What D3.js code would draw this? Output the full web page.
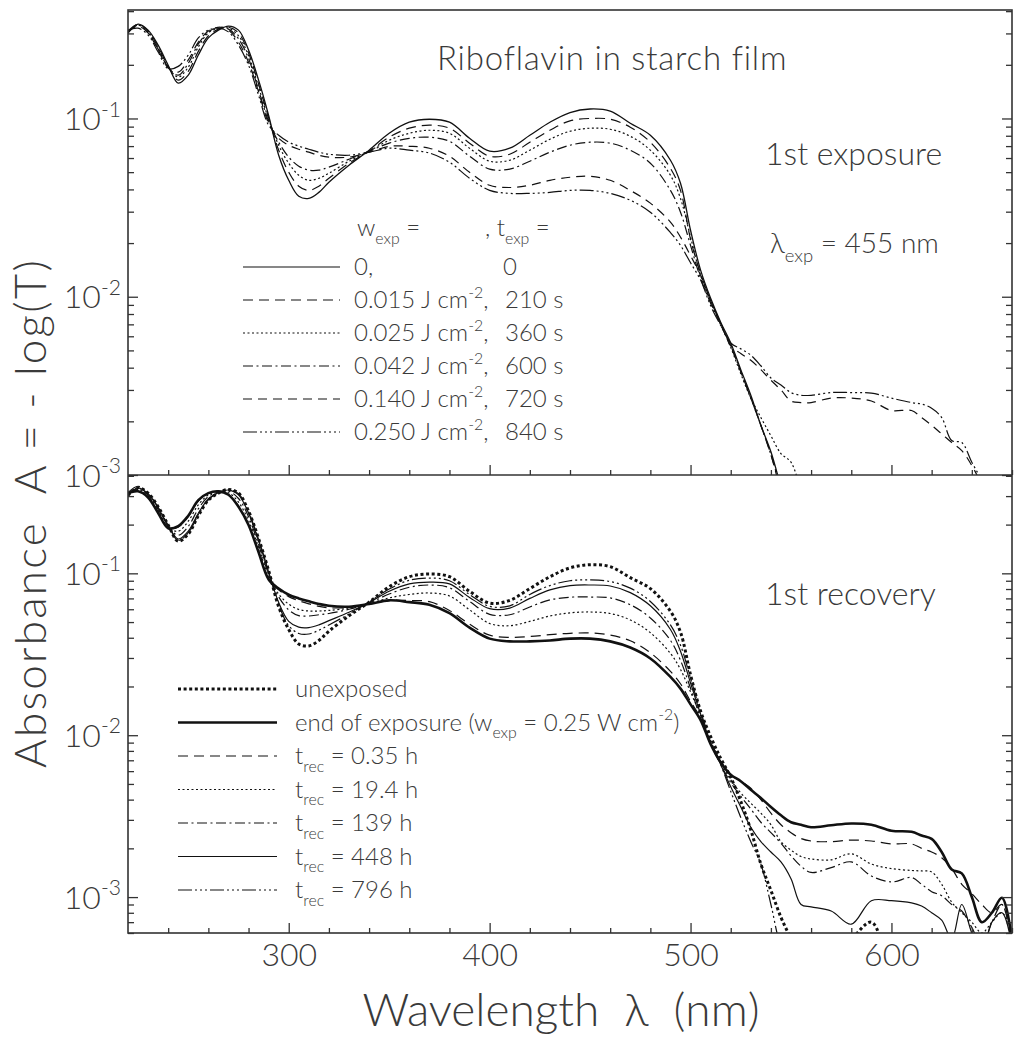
<!DOCTYPE html>
<html>
<head>
<meta charset="utf-8">
<script src="https://cdn.jsdelivr.net/npm/d3@7"></script>
<style>
  body { margin: 0; background: #fff; }
  svg text { font-family: Lato, "Open Sans", sans-serif; font-weight: 300; fill: #3a3a3a; white-space: pre; }
</style>
</head>
<body>
<svg width="1024" height="1042"></svg>
<script>
// wavelength grid (nm), shared by every spectrum
const wavelength = [
  220, 225, 230, 235, 240, 245, 250, 255, 260, 265, 270, 275, 280, 285, 290, 295, 300, 305, 310, 315, 320,
  330, 340, 350, 360, 370, 380, 390, 400, 410, 420, 430, 440, 450, 460, 470, 480, 490,
  495, 500, 505, 510, 515, 520, 525, 530, 535, 540, 545, 550, 555, 560,
  570, 580, 590, 600, 610,
  615, 620, 625, 630, 635, 640, 645, 650, 655, 660
];

// 1st exposure, absorbance
const exp0 = [
  0.302, 0.338, 0.313, 0.258, 0.199, 0.158, 0.175, 0.227, 0.283, 0.313, 0.330, 0.313, 0.242, 0.164, 0.104, 0.0622, 0.045, 0.0366, 0.0356, 0.0385, 0.0439,
  0.0547, 0.0664, 0.0826, 0.0953, 0.099, 0.0953, 0.0774, 0.0655, 0.0681, 0.0805, 0.0953, 0.108, 0.113, 0.110, 0.094, 0.0805, 0.0583,
  0.0433, 0.0236, 0.0141, 0.0098, 0.0072, 0.0055, 0.0039, 0.0028, 0.0019, 0.00135, 0.00085, 0.0005, 0.0003, 0.0003,
  0.0003, 0.0003, 0.0003, 0.0003, 0.0003,
  0.0003, 0.0003, 0.0003, 0.0003, 0.0003, 0.0003, 0.0003, 0.0003, 0.0003, 0.0003
];
const exp015 = [
  0.31, 0.338, 0.31, 0.252, 0.196, 0.164, 0.184, 0.238, 0.291, 0.317, 0.325, 0.302, 0.233, 0.156, 0.101, 0.0664, 0.05, 0.0417, 0.0395, 0.0417, 0.0462,
  0.0561, 0.0655, 0.0785, 0.0882, 0.0917, 0.0882, 0.0727, 0.0614, 0.063, 0.0736, 0.0859, 0.097, 0.1, 0.099, 0.0894, 0.0736, 0.0525,
  0.0395, 0.021, 0.0135, 0.0095, 0.0071, 0.0053, 0.0038, 0.0027, 0.0019, 0.0013, 0.0008, 0.0005, 0.0003, 0.0003,
  0.0003, 0.0003, 0.0003, 0.0003, 0.0003,
  0.0003, 0.0003, 0.0003, 0.0003, 0.0003, 0.0003, 0.0003, 0.0003, 0.0003, 0.0003
];
const exp025 = [
  0.306, 0.334, 0.306, 0.248, 0.194, 0.171, 0.194, 0.252, 0.302, 0.321, 0.321, 0.291, 0.225, 0.15, 0.099, 0.0708, 0.0561, 0.048, 0.045, 0.0462, 0.0493,
  0.0576, 0.0655, 0.0755, 0.0826, 0.0859, 0.0826, 0.0681, 0.0576, 0.0583, 0.0664, 0.0765, 0.0848, 0.0882, 0.087, 0.0795, 0.0664, 0.048,
  0.0356, 0.0216, 0.0132, 0.0093, 0.0070, 0.0052, 0.0037, 0.0027, 0.0021, 0.00166, 0.00132, 0.00118, 0.0008, 0.0005,
  0.0003, 0.0003, 0.0003, 0.0003, 0.0003,
  0.0003, 0.0003, 0.0003, 0.0003, 0.0003, 0.0003, 0.0003, 0.0003, 0.0003, 0.0003
];
const exp042 = [
  0.302, 0.334, 0.302, 0.245, 0.194, 0.175, 0.204, 0.262, 0.306, 0.325, 0.317, 0.28, 0.217, 0.144, 0.0965, 0.0736, 0.0607, 0.054, 0.0513, 0.0513, 0.0533,
  0.0591, 0.0655, 0.0727, 0.0774, 0.0785, 0.0745, 0.0614, 0.052, 0.052, 0.0576, 0.0647, 0.0708, 0.0736, 0.0727, 0.0664, 0.0561, 0.0395,
  0.0298, 0.0194, 0.0127, 0.0092, 0.0070, 0.0053, 0.0038, 0.0027, 0.0019, 0.0013, 0.00083, 0.0005, 0.0003, 0.0003,
  0.0003, 0.0003, 0.0003, 0.0003, 0.0003,
  0.0003, 0.0003, 0.0003, 0.0003, 0.0003, 0.0003, 0.0003, 0.0003, 0.0003, 0.0003
];
const exp140 = [
  0.306, 0.330, 0.302, 0.242, 0.192, 0.182, 0.213, 0.268, 0.31, 0.325, 0.313, 0.268, 0.207, 0.141, 0.094, 0.0774, 0.0708, 0.0672, 0.0647, 0.0622, 0.0607,
  0.0607, 0.0647, 0.0698, 0.0698, 0.0681, 0.0614, 0.0499, 0.0422, 0.041, 0.0422, 0.045, 0.0468, 0.0474, 0.045, 0.0395, 0.0335, 0.0262,
  0.0216, 0.017, 0.0132, 0.0095, 0.0071, 0.0053, 0.0048, 0.0044, 0.0039, 0.0034, 0.003, 0.0026, 0.00255, 0.00255,
  0.0027, 0.0027, 0.0026, 0.0023, 0.0023,
  0.0021, 0.0019, 0.0017, 0.00152, 0.00137, 0.00113, 0.00087, 0.0006, 0.0008, 0.0005
];
const exp250 = [
  0.313, 0.321, 0.294, 0.236, 0.19, 0.196, 0.227, 0.283, 0.313, 0.321, 0.306, 0.258, 0.199, 0.135, 0.0917, 0.0805, 0.0737, 0.070, 0.0672, 0.0647, 0.063,
  0.0622, 0.0647, 0.0681, 0.0664, 0.064, 0.0568, 0.0462, 0.0395, 0.038, 0.038, 0.0385, 0.0395, 0.0395, 0.038, 0.0348, 0.0298, 0.0229,
  0.0194, 0.0155, 0.0124, 0.0089, 0.0069, 0.0055, 0.0051, 0.0047, 0.0041, 0.0035, 0.0032, 0.0029, 0.0028, 0.0028,
  0.0029, 0.0029, 0.00288, 0.0027, 0.00255,
  0.0025, 0.00237, 0.0021, 0.00156, 0.00152, 0.00118, 0.00093, 0.0007, 0.0009, 0.0005
];

// 1st recovery, absorbance
const recUnexposed = [
  0.302, 0.338, 0.313, 0.258, 0.199, 0.158, 0.175, 0.227, 0.283, 0.313, 0.330, 0.313, 0.242, 0.164, 0.104, 0.0622, 0.045, 0.0366, 0.0356, 0.0385, 0.0439,
  0.0547, 0.0664, 0.0826, 0.0953, 0.099, 0.0953, 0.0774, 0.0655, 0.0681, 0.0805, 0.0953, 0.108, 0.113, 0.110, 0.094, 0.0805, 0.0583,
  0.0433, 0.0236, 0.0141, 0.0098, 0.0072, 0.0055, 0.0039, 0.0026, 0.0016, 0.0011, 0.00075, 0.00055, 0.0004, 0.0004,
  0.00045, 0.00055, 0.0007, 0.0004, 0.0004,
  0.0004, 0.0004, 0.0004, 0.0004, 0.0004, 0.0004, 0.0004, 0.0004, 0.0004, 0.0004
];
const recEnd = [
  0.313, 0.321, 0.294, 0.236, 0.19, 0.196, 0.227, 0.283, 0.313, 0.321, 0.306, 0.258, 0.199, 0.135, 0.0917, 0.0805, 0.0737, 0.070, 0.0672, 0.0647, 0.063,
  0.0622, 0.0647, 0.0681, 0.0664, 0.064, 0.0568, 0.0462, 0.0395, 0.038, 0.038, 0.0385, 0.0395, 0.0395, 0.038, 0.0348, 0.0298, 0.0229,
  0.0194, 0.0155, 0.0124, 0.0088, 0.0068, 0.0057, 0.0052, 0.0046, 0.0041, 0.0036, 0.0032, 0.0029, 0.0028, 0.0027,
  0.00278, 0.00285, 0.0028, 0.00257, 0.00253,
  0.0024, 0.00229, 0.0019, 0.00148, 0.0014, 0.001, 0.0007, 0.0008, 0.00099, 0.00054
];
const rec035 = [
  0.31, 0.325, 0.296, 0.238, 0.191, 0.193, 0.224, 0.279, 0.311, 0.321, 0.307, 0.26, 0.201, 0.137, 0.092, 0.079, 0.0718, 0.0678, 0.0648, 0.0625, 0.0612,
  0.0616, 0.0645, 0.068, 0.068, 0.0668, 0.059, 0.0485, 0.0415, 0.0402, 0.0407, 0.0418, 0.0426, 0.0428, 0.0416, 0.0383, 0.0323, 0.0248,
  0.0208, 0.0162, 0.0128, 0.0091, 0.0069, 0.0057, 0.0052, 0.0047, 0.004, 0.0033, 0.0028, 0.0025, 0.0023, 0.00222,
  0.0022, 0.00225, 0.00222, 0.00213, 0.00213,
  0.002, 0.0019, 0.00175, 0.0015, 0.0012, 0.00105, 0.0009, 0.0008, 0.0009, 0.0006
];
const rec194 = [
  0.31, 0.33, 0.30, 0.243, 0.193, 0.182, 0.21, 0.265, 0.305, 0.322, 0.315, 0.275, 0.212, 0.145, 0.096, 0.0745, 0.0645, 0.0598, 0.0585, 0.0585, 0.059,
  0.061, 0.065, 0.0705, 0.074, 0.0756, 0.0725, 0.0595, 0.049, 0.0475, 0.0505, 0.0545, 0.057, 0.0577, 0.0565, 0.0515, 0.043, 0.032,
  0.0255, 0.0185, 0.0132, 0.009, 0.0068, 0.0053, 0.0044, 0.0038, 0.0033, 0.0028, 0.0022, 0.00195, 0.00178, 0.00172,
  0.0017, 0.00185, 0.0016, 0.0015, 0.00146,
  0.00145, 0.00143, 0.0012, 0.00093, 0.0008, 0.0007, 0.0006, 0.0007, 0.0008, 0.0006
];
const rec139 = [
  0.305, 0.335, 0.305, 0.248, 0.195, 0.172, 0.195, 0.25, 0.298, 0.318, 0.322, 0.29, 0.224, 0.15, 0.099, 0.0715, 0.0595, 0.0548, 0.0545, 0.0555, 0.0565,
  0.06, 0.0655, 0.0745, 0.082, 0.0847, 0.0815, 0.067, 0.0558, 0.0555, 0.062, 0.0685, 0.0712, 0.0714, 0.0705, 0.064, 0.053, 0.0385,
  0.029, 0.0195, 0.0128, 0.0088, 0.0066, 0.0051, 0.0042, 0.0035, 0.0029, 0.0025, 0.00215, 0.0018, 0.00155, 0.00142,
  0.00152, 0.00165, 0.00135, 0.00124, 0.00132,
  0.0012, 0.00108, 0.00102, 0.0009, 0.00082, 0.00065, 0.0005, 0.0007, 0.0009, 0.0005
];
const rec448 = [
  0.303, 0.337, 0.31, 0.254, 0.197, 0.163, 0.182, 0.235, 0.288, 0.315, 0.327, 0.305, 0.236, 0.158, 0.102, 0.066, 0.0505, 0.0465, 0.0462, 0.048, 0.051,
  0.0575, 0.066, 0.0775, 0.086, 0.0883, 0.086, 0.071, 0.0605, 0.061, 0.07, 0.079, 0.084, 0.0847, 0.0835, 0.076, 0.063, 0.045,
  0.033, 0.021, 0.0135, 0.009, 0.0066, 0.0048, 0.0036, 0.0027, 0.0022, 0.0019, 0.00165, 0.0013, 0.0009, 0.00087,
  0.00082, 0.00068, 0.00095, 0.00095, 0.00092,
  0.00088, 0.0008, 0.00072, 0.00055, 0.0009, 0.0006, 0.00045, 0.0007, 0.0008, 0.0005
];
const rec796 = [
  0.315, 0.345, 0.312, 0.256, 0.198, 0.16, 0.178, 0.23, 0.285, 0.314, 0.329, 0.31, 0.24, 0.162, 0.103, 0.064, 0.0475, 0.0425, 0.0422, 0.0445, 0.048,
  0.056, 0.0665, 0.08, 0.0905, 0.0935, 0.09, 0.074, 0.0625, 0.063, 0.074, 0.084, 0.09, 0.091, 0.089, 0.081, 0.067, 0.048,
  0.036, 0.0225, 0.014, 0.0093, 0.0066, 0.0045, 0.0031, 0.0022, 0.0016, 0.0009, 0.0005, 0.0004, 0.0004, 0.0004,
  0.0004, 0.0004, 0.0004, 0.0004, 0.0004,
  0.0004, 0.0004, 0.0004, 0.0004, 0.0004, 0.0004, 0.0004, 0.0004, 0.0004, 0.0004
];

// legend labels and ticks
const expDose = ['0', '0.015', '0.025', '0.042', '0.140', '0.250'];
const expTime = ['0', '210 s', '360 s', '600 s', '720 s', '840 s'];
const recTime = ['0.35 h', '19.4 h', '139 h', '448 h', '796 h'];
const xMajorTicks = [300, 400, 500, 600];
const xMinorTicks = [240, 260, 280, 320, 340, 360, 380, 420, 440, 460, 480, 520, 540, 560, 580, 620, 640, 660];
const yMajorTicks = [1e-3, 1e-2, 1e-1];

// line styles
const dash = {
  solid: null,
  dashed: '10,6',
  dotted: '2,2.5',
  dashDot: '10,3.5,2,3.5',
  dashed2: '9,6',
  dashDotDot: '14,3,2,3,2,3,2,3',
  heavyDot: '3,2.6'
};

const svg = d3.select('svg');
const plotLeft = 128, plotRight = 1012, plotTop = 10, plotMid = 475, plotBottom = 933;

const x = d3.scaleLinear().domain([220, 660]).range([plotLeft, plotRight]);
const yTop = d3.scaleLog().domain([1e-3, 0.406]).range([plotMid, plotTop]);
const yBot = d3.scaleLog().domain([6.0e-4, 0.405]).range([plotBottom, plotMid]);

// text with sub/superscript pieces
const richText = (sel, px, py, parts, size, anchor) => {
  const t = sel.append('text')
    .attr('x', px).attr('y', py)
    .attr('text-anchor', anchor || 'start')
    .style('font-size', size + 'px');
  let shift = 0;
  parts.forEach(p => {
    const target = p.sub ? size * 0.32 : p.sup ? -size * 0.42 : 0;
    t.append('tspan')
      .attr('dy', target - shift)
      .style('font-size', (p.sub || p.sup ? size * 0.66 : size) + 'px')
      .text(p.t);
    shift = target;
  });
  return t;
};

const drawPanel = (props) => {
  const { id, y, y0, y1, series } = props;

  svg.append('clipPath').attr('id', id)
    .append('rect')
      .attr('x', plotLeft).attr('y', y0)
      .attr('width', plotRight - plotLeft).attr('height', y1 - y0);

  const line = d3.line()
    .x((d, i) => x(wavelength[i]))
    .y(d => y(d))
    .curve(d3.curveCatmullRom.alpha(0.5));

  svg.append('g')
      .attr('clip-path', `url(#${id})`)
    .selectAll('path').data(series)
    .enter().append('path')
      .attr('d', d => line(d.values))
      .attr('fill', 'none')
      .attr('stroke', '#111')
      .attr('stroke-width', d => d.width)
      .attr('stroke-dasharray', d => d.dash);

  // log ticks, pointing inward on both sides
  const majors = yMajorTicks;
  const minors = y.ticks().filter(v => !majors.some(m => Math.abs(v - m) / m < 1e-6));
  const tickGroup = (axis, tx, vals, size) => svg.append('g')
      .attr('transform', `translate(${tx},0)`)
      .style('color', '#333')
      .call(axis(y).tickValues(vals).tickSize(-size).tickFormat(''))
      .call(g => g.select('.domain').remove())
      .call(g => g.selectAll('line').attr('stroke-width', 1.3));
  tickGroup(d3.axisLeft, plotLeft, majors, 10);
  tickGroup(d3.axisLeft, plotLeft, minors, 6);
  tickGroup(d3.axisRight, plotRight, majors, 10);
  tickGroup(d3.axisRight, plotRight, minors, 6);

  majors.forEach(v => {
    richText(svg, 121, y(v) + 11.5,
      [{ t: '10' }, { t: String(Math.round(Math.log10(v))), sup: true }], 32, 'end');
  });

  // wavelength ticks along the panel bottom
  const xTicks = (vals, size) => svg.append('g')
      .attr('transform', `translate(0,${y1})`)
      .style('color', '#333')
      .call(d3.axisBottom(x).tickValues(vals).tickSize(-size).tickFormat(''))
      .call(g => g.select('.domain').remove())
      .call(g => g.selectAll('line').attr('stroke-width', 1.3));
  xTicks(xMajorTicks, 10);
  xTicks(xMinorTicks, 5);
};

drawPanel({
  id: 'clipTop', y: yTop, y0: plotTop, y1: plotMid,
  series: [
    { values: exp0, dash: dash.solid, width: 1.3 },
    { values: exp015, dash: dash.dashed, width: 1.2 },
    { values: exp025, dash: dash.dotted, width: 1.2 },
    { values: exp042, dash: dash.dashDot, width: 1.2 },
    { values: exp140, dash: dash.dashed2, width: 1.2 },
    { values: exp250, dash: dash.dashDotDot, width: 1.2 }
  ]
});

drawPanel({
  id: 'clipBot', y: yBot, y0: plotMid, y1: plotBottom,
  series: [
    { values: recUnexposed, dash: dash.heavyDot, width: 3 },
    { values: recEnd, dash: dash.solid, width: 2.6 },
    { values: rec035, dash: dash.dashed, width: 1.2 },
    { values: rec194, dash: dash.dotted, width: 1.2 },
    { values: rec139, dash: dash.dashDot, width: 1.2 },
    { values: rec448, dash: dash.solid, width: 1.2 },
    { values: rec796, dash: dash.dashDotDot, width: 1.2 }
  ]
});

// wavelength labels
svg.append('g')
    .attr('transform', `translate(0,${plotBottom})`)
    .call(d3.axisBottom(x).tickValues(xMajorTicks).tickSize(0).tickPadding(10))
    .call(g => g.select('.domain').remove())
    .selectAll('text')
      .style('font-size', '32px');

// frame
svg.append('rect')
    .attr('x', plotLeft).attr('y', plotTop)
    .attr('width', plotRight - plotLeft).attr('height', plotBottom - plotTop)
    .attr('fill', 'none').attr('stroke', '#333').attr('stroke-width', 1.6);
svg.append('line')
    .attr('x1', plotLeft).attr('x2', plotRight).attr('y1', plotMid).attr('y2', plotMid)
    .attr('stroke', '#333').attr('stroke-width', 1.6);

// axis titles
svg.append('text')
    .attr('transform', 'translate(46,513) rotate(-90)')
    .attr('text-anchor', 'middle')
    .style('font-size', '44px')
    .style('letter-spacing', '2.2px')
    .text('Absorbance  A = - log(T)');
svg.append('text')
    .attr('x', 561).attr('y', 1026)
    .attr('text-anchor', 'middle')
    .style('font-size', '46px')
    .text('Wavelength  \u03bb  (nm)');

// panel notes
svg.append('text').attr('x', 437).attr('y', 70)
    .style('font-size', '33px').style('letter-spacing', '0.8px')
    .text('Riboflavin in starch film');
svg.append('text').attr('x', 765).attr('y', 165).style('font-size', '32px').text('1st exposure');
richText(svg, 770, 253, [{ t: '\u03bb' }, { t: 'exp', sub: true }, { t: ' = 455 nm' }], 28);
svg.append('text').attr('x', 765).attr('y', 605).style('font-size', '32px').text('1st recovery');

// legend, top panel
const expStyles = [dash.solid, dash.dashed, dash.dotted, dash.dashDot, dash.dashed2, dash.dashDotDot];
const topLegend = svg.append('g');
richText(topLegend, 357, 236, [{ t: 'w' }, { t: 'exp', sub: true }, { t: ' =' }], 24);
richText(topLegend, 485, 236, [{ t: ', t' }, { t: 'exp', sub: true }, { t: ' =' }], 24);
expDose.forEach((dose, i) => {
  const ly = 267 + i * 33;
  topLegend.append('line')
    .attr('x1', 243).attr('x2', 340).attr('y1', ly).attr('y2', ly)
    .attr('stroke', '#111').attr('stroke-width', 1.2)
    .attr('stroke-dasharray', expStyles[i]);
  if (i === 0) {
    richText(topLegend, 354, ly + 8, [{ t: dose + ',' }], 24);
  } else {
    richText(topLegend, 354, ly + 8, [{ t: dose + ' J cm' }, { t: '-2', sup: true }, { t: ',' }], 24);
  }
  richText(topLegend, i === 0 ? 503 : 505, ly + 8, [{ t: expTime[i] }], 24);
});

// legend, bottom panel
const botLegend = svg.append('g');
const recRows = [
  { parts: [{ t: 'unexposed' }], dash: dash.heavyDot, width: 3 },
  { parts: [{ t: 'end of exposure (w' }, { t: 'exp', sub: true }, { t: ' = 0.25 W cm' }, { t: '-2', sup: true }, { t: ')' }], dash: dash.solid, width: 2.6 },
  ...recTime.map((t, i) => ({
    parts: [{ t: 't' }, { t: 'rec', sub: true }, { t: ' = ' + t }],
    dash: [dash.dashed, dash.dotted, dash.dashDot, dash.solid, dash.dashDotDot][i],
    width: 1.2
  }))
];
recRows.forEach((row, i) => {
  const ly = 689 + i * 33.5;
  botLegend.append('line')
    .attr('x1', 178).attr('x2', 277).attr('y1', ly).attr('y2', ly)
    .attr('stroke', '#111').attr('stroke-width', row.width)
    .attr('stroke-dasharray', row.dash);
  richText(botLegend, 295, ly + 8, row.parts, 24);
});
</script>
</body>
</html>
